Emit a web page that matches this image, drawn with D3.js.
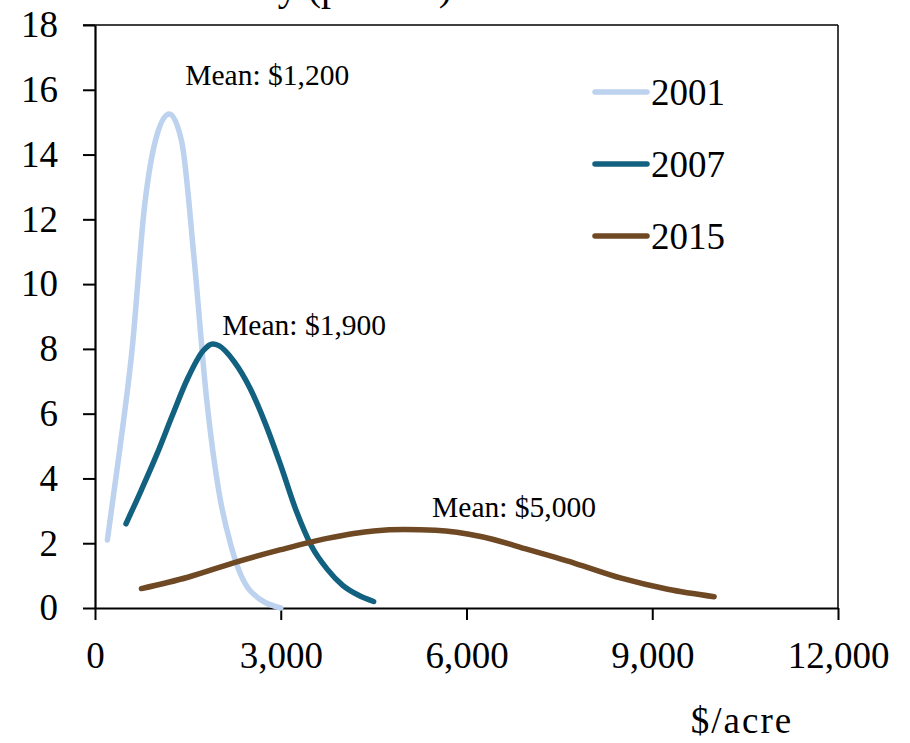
<!DOCTYPE html>
<html>
<head>
<meta charset="utf-8">
<script src="https://cdn.jsdelivr.net/npm/d3@7/dist/d3.min.js"></script>
<style>
  html, body { margin: 0; padding: 0; background: #fff; }
  svg { display: block; font-family: "Liberation Serif", "DejaVu Serif", serif; }
</style>
</head>
<body>
<svg id="chart" width="910" height="743"></svg>
<script>
// Land value distributions ($/acre) by year, probability in percent
const years = ["2001", "2007", "2015"];
const colors = ["#BCD2EE", "#136180", "#6F4824"];
const means = [1200, 1900, 5000];

const dist2001 = [
  [200, 2.1], [400, 4.9], [600, 8.0], [800, 12.4], [1000, 14.6], [1200, 15.25],
  [1400, 14.4], [1600, 10.8], [1800, 6.5], [2000, 3.6], [2200, 1.9], [2500, 0.55], [3000, 0.0]
];
const dist2007 = [
  [500, 2.6], [750, 3.65], [1000, 4.75], [1250, 5.95], [1500, 7.1], [1750, 7.95], [1900, 8.15],
  [2000, 8.1], [2250, 7.6], [2500, 6.8], [2750, 5.7], [3000, 4.4], [3250, 3.0], [3500, 1.9],
  [3750, 1.2], [4000, 0.7], [4250, 0.4], [4500, 0.2]
];
const dist2015 = [
  [750, 0.6], [1500, 0.95], [2250, 1.4], [3000, 1.8], [3750, 2.15], [4500, 2.38], [5000, 2.42],
  [5500, 2.4], [6250, 2.2], [7000, 1.8], [7750, 1.38], [8500, 0.92], [9250, 0.58], [10000, 0.35]
];
const series = [dist2001, dist2007, dist2015];

const xTicks = [0, 3000, 6000, 9000, 12000];
const yTicks = [0, 2, 4, 6, 8, 10, 12, 14, 16, 18];

const svg = d3.select("#chart");
const plotLeft = 95, plotRight = 838, plotTop = 25, plotBottom = 608;

const x = d3.scaleLinear().domain([0, 12000]).range([plotLeft, plotRight]);
const y = d3.scaleLinear().domain([0, 18]).range([plotBottom, plotTop]);

// frame: top and right edges
svg.append("line").attr("x1", plotLeft - 12).attr("x2", plotRight).attr("y1", plotTop).attr("y2", plotTop)
  .attr("stroke", "#000").attr("stroke-width", 1.5);
svg.append("line").attr("x1", plotRight).attr("x2", plotRight).attr("y1", plotTop).attr("y2", plotBottom)
  .attr("stroke", "#000").attr("stroke-width", 1.5);

// axes
const gx = svg.append("g").attr("transform", `translate(0,${plotBottom})`)
  .call(d3.axisBottom(x).tickValues(xTicks).tickFormat(d3.format(",")).tickSize(12).tickSizeOuter(0));
const gy = svg.append("g").attr("transform", `translate(${plotLeft},0)`)
  .call(d3.axisLeft(y).tickValues(yTicks).tickFormat(d3.format("d")).tickSize(12).tickPadding(25).tickSizeOuter(0));

[gx, gy].forEach(g => {
  g.select(".domain").attr("stroke", "#000").attr("stroke-width", 2.2);
  g.selectAll(".tick line").attr("stroke", "#000").attr("stroke-width", 2);
  g.selectAll(".tick text").attr("fill", "#000").style("font-size", "37px")
    .style("font-family", "'Liberation Serif', serif");
});
gx.selectAll(".tick text").attr("dy", null).attr("y", 60);

// distribution curves
const line = d3.line().x(d => x(d[0])).y(d => y(d[1])).curve(d3.curveMonotoneX);
series.forEach((s, i) => {
  svg.append("path").datum(s).attr("d", line)
    .attr("fill", "none").attr("stroke", colors[i]).attr("stroke-width", 5.5)
    .attr("stroke-linecap", "round").attr("stroke-linejoin", "round");
});

// mean annotations, placed relative to each curve's peak
const labelOffsets = [[16, -29], [9.5, -9], [27.5, -12.6]];
const fmtMoney = d3.format("$,");
series.forEach((s, i) => {
  const peak = d3.max(s, d => d[1]);
  svg.append("text")
    .attr("x", x(means[i]) + labelOffsets[i][0])
    .attr("y", y(peak) + labelOffsets[i][1])
    .style("font-size", "29.5px").attr("fill", "#000")
    .text(`Mean: ${fmtMoney(means[i])}`);
});

// legend
const legend = svg.append("g");
years.forEach((yr, i) => {
  const ly = 92 + i * 72;
  legend.append("line").attr("x1", 595).attr("x2", 647).attr("y1", ly).attr("y2", ly)
    .attr("stroke", colors[i]).attr("stroke-width", 5.5).attr("stroke-linecap", "round");
  legend.append("text").attr("x", 651).attr("y", ly + 13)
    .style("font-size", "37px").attr("fill", "#000").text(yr);
});

// axis titles
svg.append("text").attr("x", 120).attr("y", 0)
  .style("font-size", "40px").attr("fill", "#000").text("Probability (percent)");
svg.append("text").attr("x", 742).attr("y", 733).attr("text-anchor", "middle")
  .style("font-size", "37px").style("letter-spacing", "2px").attr("fill", "#000").text("$/acre");
</script>
</body>
</html>
